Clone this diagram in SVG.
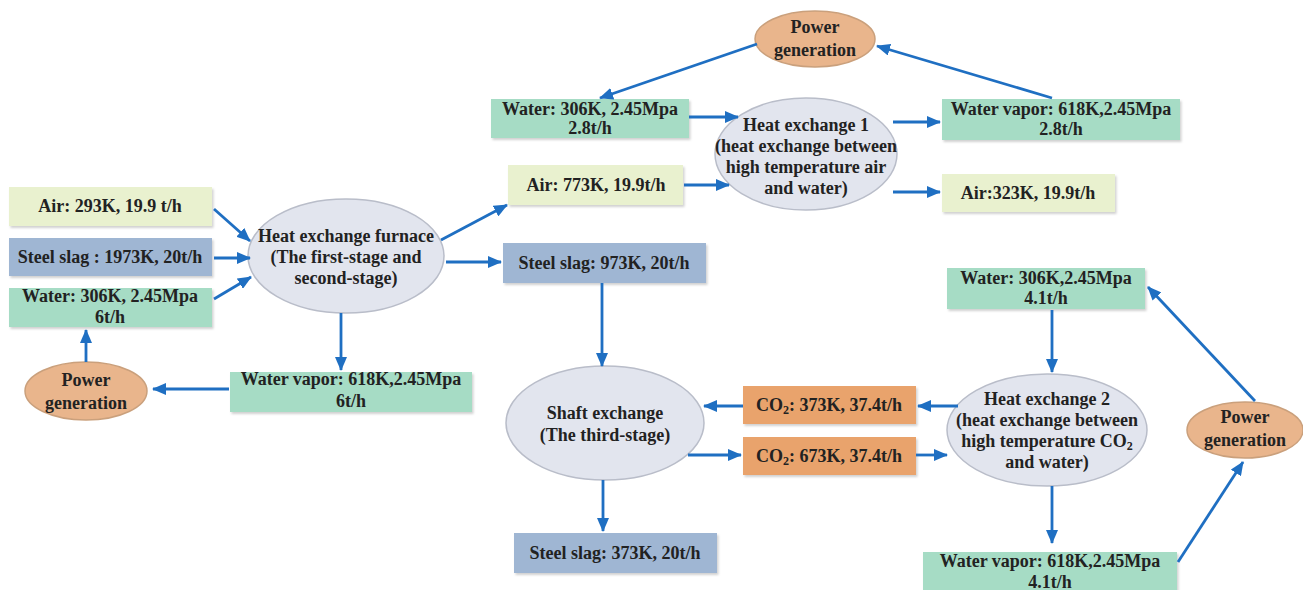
<svg xmlns="http://www.w3.org/2000/svg" width="1303" height="590" viewBox="0 0 1303 590">
<defs>
<marker id="ah" viewBox="0 0 14 12" refX="13" refY="6" markerWidth="14" markerHeight="12" markerUnits="userSpaceOnUse" orient="auto">
<path d="M0,0 L14,6 L0,12 Z" fill="#1f6fc2"/>
</marker>
<filter id="sh" x="-5%" y="-10%" width="115%" height="130%">
<feDropShadow dx="1.5" dy="2" stdDeviation="1.2" flood-color="#000" flood-opacity="0.18"/>
</filter>
<style>
text{font-family:"Liberation Serif","Times New Roman","DejaVu Serif",serif;font-weight:bold;font-size:18px;fill:#222;text-anchor:middle}
rect{filter:url(#sh)}
.g{fill:#a6dcc5}
.y{fill:#e9f1cf}
.b{fill:#9fb6d3}
.o{fill:#e9a36c}
.e{fill:#e2e5ee;stroke:#b9bdc9;stroke-width:1.5}
.p{fill:#e9b58c;stroke:#caa07c;stroke-width:1.5}
.c line{stroke:#1f6fc2;stroke-width:2.8;marker-end:url(#ah)}
</style>
</defs>
<rect width="1303" height="590" fill="#fff" style="filter:none"/>

<g font-family="Liberation Serif, serif">
<g id="air293"><rect class="y" x="9" y="187" width="203" height="39"/><text x="110" y="212">Air: 293K, 19.9 t/h</text></g>
<g id="slag1973"><rect class="b" x="9" y="238" width="203" height="38"/><text x="110" y="263">Steel slag  : 1973K, 20t/h</text></g>
<g id="water6"><rect class="g" x="9" y="288" width="203" height="39"/><text x="110" y="302">Water: 306K, 2.45Mpa</text><text x="110" y="323">6t/h</text></g>
<g id="furnace"><ellipse class="e" cx="346" cy="256" rx="98" ry="57"/><text x="346" y="242">Heat exchange furnace</text><text x="346" y="263">(The first-stage and</text><text x="346" y="284">second-stage)</text></g>
<g id="power1"><ellipse class="p" cx="86" cy="391" rx="61" ry="29"/><text x="86" y="386">Power</text><text x="86" y="409">generation</text></g>
<g id="vapor6"><rect class="g" x="230" y="372" width="242" height="40"/><text x="351" y="385">Water vapor: 618K,2.45Mpa</text><text x="351" y="407">6t/h</text></g>

<g id="power2"><ellipse class="p" cx="815" cy="39" rx="60" ry="28"/><text x="815" y="33">Power</text><text x="815" y="56">generation</text></g>
<g id="water28"><rect class="g" x="491" y="99" width="198" height="39"/><text x="590" y="115">Water: 306K, 2.45Mpa</text><text x="590" y="134">2.8t/h</text></g>
<g id="air773"><rect class="y" x="508" y="165" width="175" height="40"/><text x="596" y="191">Air: 773K, 19.9t/h</text></g>
<g id="he1"><ellipse class="e" cx="806" cy="154" rx="91" ry="56"/><text x="806" y="131">Heat exchange 1</text><text x="806" y="152">(heat exchange between</text><text x="806" y="173">high temperature air</text><text x="806" y="194">and water)</text></g>
<g id="vapor28"><rect class="g" x="942" y="99" width="238" height="41"/><text x="1061" y="115">Water vapor: 618K,2.45Mpa</text><text x="1061" y="135">2.8t/h</text></g>
<g id="air323"><rect class="y" x="942" y="174" width="173" height="38"/><text x="1028" y="199">Air:323K, 19.9t/h</text></g>

<g id="slag973"><rect class="b" x="503" y="243" width="203" height="40"/><text x="604" y="269">Steel slag: 973K, 20t/h</text></g>
<g id="shaft"><ellipse class="e" cx="605" cy="423" rx="99" ry="57"/><text x="605" y="419">Shaft exchange</text><text x="605" y="441">(The third-stage)</text></g>
<g id="slag373"><rect class="b" x="514" y="533" width="203" height="40"/><text x="615" y="559">Steel slag: 373K, 20t/h</text></g>
<g id="co2373"><rect class="o" x="743" y="386" width="173" height="38"/><text x="829" y="411">CO<tspan font-size="12" dy="3">2</tspan><tspan dy="-3">: 373K, 37.4t/h</tspan></text></g>
<g id="co2673"><rect class="o" x="743" y="437" width="173" height="38"/><text x="829" y="462">CO<tspan font-size="12" dy="3">2</tspan><tspan dy="-3">: 673K, 37.4t/h</tspan></text></g>

<g id="water41"><rect class="g" x="947" y="268" width="198" height="41"/><text x="1046" y="284">Water: 306K,2.45Mpa</text><text x="1046" y="304">4.1t/h</text></g>
<g id="he2"><ellipse class="e" cx="1047" cy="430" rx="100" ry="56"/><text x="1047" y="405">Heat exchange 2</text><text x="1047" y="426">(heat exchange between</text><text x="1047" y="447">high temperature CO<tspan font-size="12" dy="3">2</tspan></text><text x="1047" y="468">and water)</text></g>
<g id="power3"><ellipse class="p" cx="1245" cy="430" rx="58" ry="28"/><text x="1245" y="423">Power</text><text x="1245" y="446">generation</text></g>
<g id="vapor41"><rect class="g" x="923" y="552" width="254" height="40"/><text x="1050" y="567">Water vapor: 618K,2.45Mpa</text><text x="1050" y="588">4.1t/h</text></g>
</g>

<g id="connectors" class="c">
<line x1="214" y1="209" x2="250" y2="241"/>
<line x1="214" y1="258" x2="250" y2="258"/>
<line x1="214" y1="299" x2="251" y2="277"/>
<line x1="341" y1="313" x2="341" y2="370"/>
<line x1="229" y1="389" x2="153" y2="389"/>
<line x1="86" y1="362" x2="86" y2="330"/>
<line x1="441" y1="240" x2="507" y2="205"/>
<line x1="446" y1="262" x2="501" y2="262"/>
<line x1="757" y1="44" x2="600" y2="98"/>
<line x1="1052" y1="98" x2="877" y2="46"/>
<line x1="689" y1="117" x2="738" y2="117"/>
<line x1="684" y1="185" x2="729" y2="185"/>
<line x1="893" y1="122" x2="940" y2="122"/>
<line x1="893" y1="192" x2="940" y2="192"/>
<line x1="602" y1="283" x2="602" y2="366"/>
<line x1="603" y1="480" x2="603" y2="531"/>
<line x1="743" y1="406" x2="704" y2="406"/>
<line x1="688" y1="455" x2="741" y2="455"/>
<line x1="958" y1="406" x2="918" y2="406"/>
<line x1="916" y1="455" x2="947" y2="455"/>
<line x1="1052" y1="310" x2="1052" y2="372"/>
<line x1="1052" y1="486" x2="1052" y2="543"/>
<line x1="1255" y1="401" x2="1148" y2="287"/>
<line x1="1178" y1="562" x2="1243" y2="462"/>
</g>
</svg>
